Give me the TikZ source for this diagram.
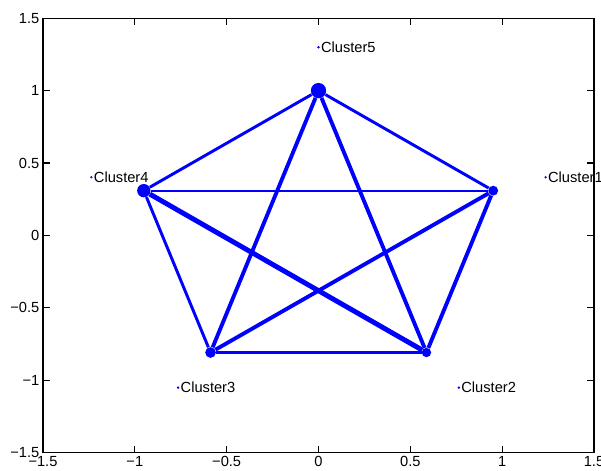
\documentclass[tikz,border=0pt]{standalone}
\usepackage{fontspec}
\setmainfont{Liberation Sans}
\usepackage{xcolor}
\usetikzlibrary{positioning, calc}
\definecolor{plotblue}{RGB}{0, 0, 255}
\tikzset{
    axisline/.style={draw=black, line width=0.8pt},
    ticklabel/.style={font=\fontsize{11}{13}\selectfont, inner sep=2.5pt},
    vertex/.style={circle, fill=plotblue, inner sep=0pt},
    labeldot/.style={circle, fill=plotblue, inner sep=0pt, minimum size=2pt},
    tag/.style={font=\fontsize{11}{13}\selectfont, inner sep=0.5pt, anchor=west},
    thinedge/.style={draw=plotblue, line width=1.6pt},
    midedge/.style={draw=plotblue, line width=2.2pt},
    thickedge/.style={draw=plotblue, line width=2.9pt},
    heavyedge/.style={draw=plotblue, line width=3.7pt}
}
\begin{document}
\begin{tikzpicture}[x=4.843cm, y=3.817cm]
    \useasboundingbox (-1.734,-1.626) rectangle (1.538,1.626);

    % axes box, ticks and tick labels
    \draw [axisline] (-1.5,-1.5) rectangle (1.5,1.5);
    \foreach \v/\t [count=\i] in {-1.5/{−1.5}, -1/{−1}, -0.5/{−0.5}, 0/0, 0.5/0.5, 1/1, 1.5/1.5} {
        \draw [axisline] (\v,-1.5) -- ++(0,5pt) (\v,1.5) -- ++(0,-5pt);
        \draw [axisline] (-1.5,\v) -- ++(5pt,0) (1.5,\v) -- ++(-5pt,0);
        \node (xl\i) [ticklabel, below] at (\v,-1.5) {\t};
        \node (yl\i) [ticklabel, left] at (-1.5,\v) {\t};
    }

    % cluster vertices
    \node (c1) [vertex, minimum size=7.4pt] at (0.9511,0.3090) {};
    \node (c2) [vertex, minimum size=7pt] at (0.5878,-0.8090) {};
    \node (c3) [vertex, minimum size=8pt] at (-0.5878,-0.8090) {};
    \node (c4) [vertex, minimum size=10pt] at (-0.9511,0.3090) {};
    \node (c5) [vertex, minimum size=11.5pt] at (0,1) {};

    % links
    \draw [thinedge] (c4) -- (c1);
    \draw [thinedge] (c3) -- (c2);
    \draw [midedge] (c5) -- (c4);
    \draw [midedge] (c5) -- (c1);
    \draw [midedge] (c4) -- (c3);
    \draw [thickedge] (c5) -- (c3);
    \draw [thickedge] (c5) -- (c2);
    \draw [thickedge] (c3) -- (c1);
    \draw [thickedge] (c1) -- (c2);
    \draw [heavyedge] (c4) -- (c2);

    % cluster names
    \node (d1) [labeldot] at (1.2364,0.4017) {};
    \node (d2) [labeldot] at (0.7641,-1.0517) {};
    \node (d3) [labeldot] at (-0.7641,-1.0517) {};
    \node (d4) [labeldot] at (-1.2364,0.4017) {};
    \node (d5) [labeldot] at (0,1.3) {};
    \node (l1) [tag, right=0pt of d1] {Cluster1};
    \node (l2) [tag, right=0pt of d2] {Cluster2};
    \node (l3) [tag, right=0pt of d3] {Cluster3};
    \node (l4) [tag, right=0pt of d4] {Cluster4};
    \node (l5) [tag, right=0pt of d5] {Cluster5};
\end{tikzpicture}
\end{document}
